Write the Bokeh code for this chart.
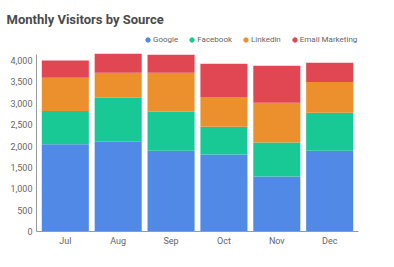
from bokeh.plotting import figure
from bokeh.models import ColumnDataSource, Range1d, FixedTicker, NumeralTickFormatter, Legend, LegendItem
from bokeh.embed import file_html
from bokeh.resources import INLINE

months = ["Jul", "Aug", "Sep", "Oct", "Nov", "Dec"]
google = [2040, 2100, 1890, 1800, 1285, 1890]
facebook = [780, 1030, 910, 650, 795, 890]
linkedin = [780, 585, 915, 700, 930, 720]
email = [400, 445, 420, 775, 870, 450]
series = ["Google", "Facebook", "LinkedIn", "Email Marketing"]
legend_labels = ["Google", "Facebook", "Linkedin", "Email Marketing"]
colors = ["#5089E6", "#19C995", "#EC902E", "#E04753"]
y_ticks = [0, 500, 1000, 1500, 2000, 2500, 3000, 3500, 4000]

source = ColumnDataSource(dict(month=months, Google=google, Facebook=facebook,
                               LinkedIn=linkedin, **{"Email Marketing": email}))

p = figure(x_range=months, y_range=Range1d(0, 4680), width=394, height=267,
           output_backend="svg", toolbar_location=None,
           title="Monthly Visitors by Source",
           min_border_left=36, min_border_right=36, min_border_bottom=36, min_border_top=31)
p.x_range.range_padding = 0.015

p.vbar_stack(series, x="month", width=0.89, color=colors, source=source, line_color=None)

# legend with circle markers: helper renderers drawn underneath the bars (hidden)
items = []
for lab, c in zip(legend_labels, colors):
    r = p.scatter(x="month", y="Email Marketing", source=source, marker="circle",
                  size=4, color=c, level="underlay")
    items.append(LegendItem(label=lab, renderers=[r], index=0))
legend = Legend(items=items, orientation="horizontal", location=(106, 186),
                label_text_font="Roboto", label_text_font_size="8px", label_text_color="#666666",
                glyph_width=11, glyph_height=11, label_standoff=0, spacing=8,
                padding=0, margin=0, border_line_color=None, background_fill_alpha=0)
legend.label_height = 11
p.add_layout(legend)

p.title.text_font = "Roboto"
p.title.text_font_size = "13px"
p.title.text_font_style = "bold"
p.title.text_color = "#4a4a4a"
p.title.offset = -30

p.xgrid.grid_line_color = None
p.ygrid.grid_line_color = None
p.outline_line_color = None

p.yaxis.ticker = FixedTicker(ticks=y_ticks)
p.yaxis.formatter = NumeralTickFormatter(format="0,0")
p.yaxis.bounds = (0, 4150)
for ax in (p.xaxis, p.yaxis):
    ax.axis_line_color = "#9a9a9a"
    ax.major_tick_line_color = None
    ax.minor_tick_line_color = None
    ax.major_tick_out = 0
    ax.major_tick_in = 0
    ax.major_label_text_font = "Roboto"
    ax.major_label_text_font_size = "9px"
    ax.major_label_text_color = "#666666"
p.yaxis.major_label_standoff = 4
p.xaxis.major_label_standoff = 4

open("out.html", "w").write(file_html(p, INLINE))
